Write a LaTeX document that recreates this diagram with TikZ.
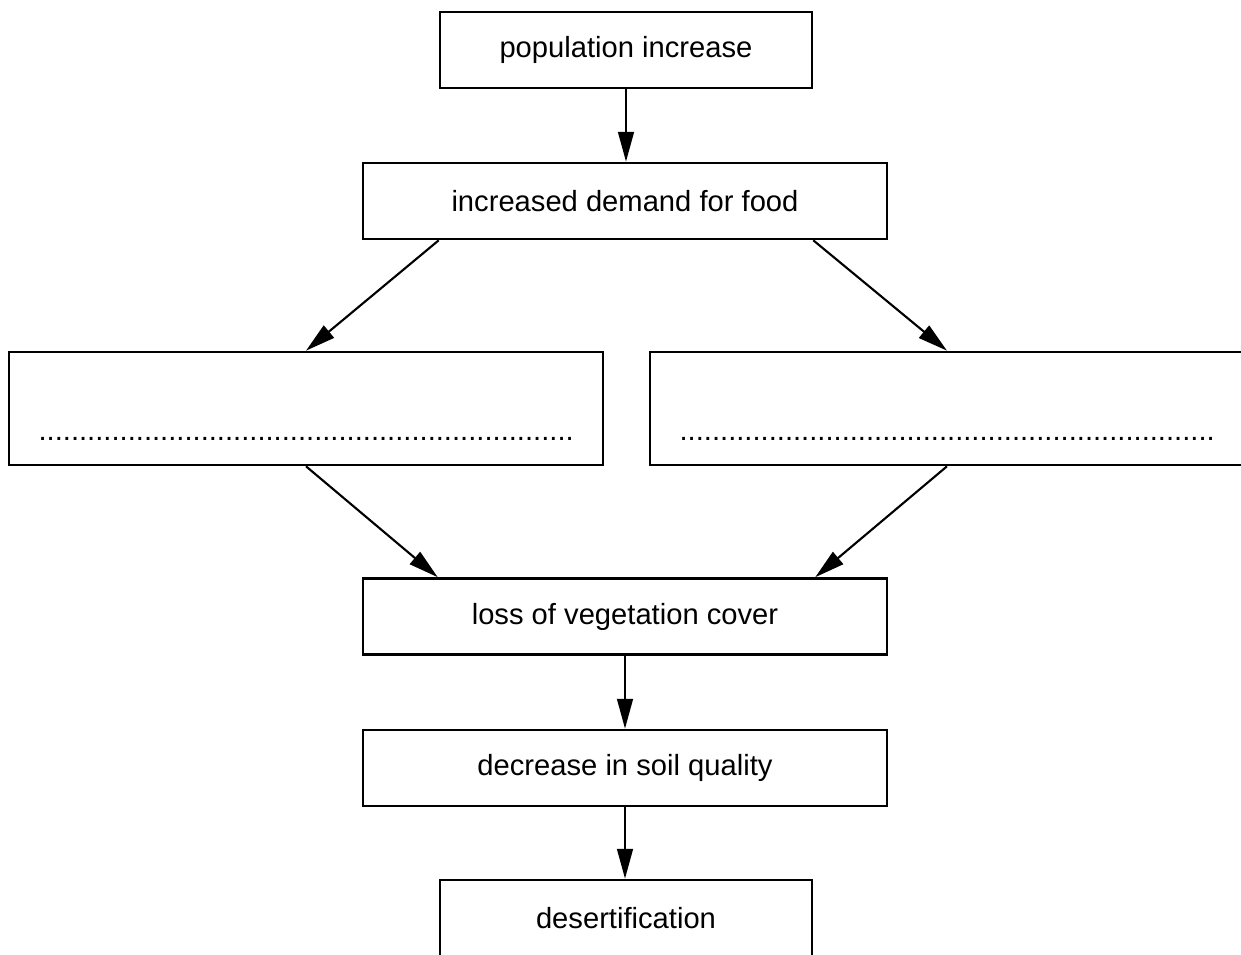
\documentclass[tikz,border=0pt]{standalone}
\usepackage{fontspec}
\setmainfont{Liberation Sans}
\usetikzlibrary{arrows.meta,positioning,calc}
\tikzset{
	flowtext/.style={font=\fontsize{16.6}{20}\selectfont},
	flowbox/.style={draw, line width=1.5pt, minimum width=#1, minimum height=1.52cm, inner sep=0pt, flowtext},
	flowbox/.default=10.48cm,
	answerbox/.style={flowbox=11.88cm, minimum height=2.26cm},
	flowarrow/.style={line width=1.2pt, -{Triangle[length=17pt,width=9pt]}},
}
\newcommand{\answerdots}{\foreach \k in {1,...,66}{.}}
\begin{document}
\begin{tikzpicture}[x=0.02cm,y=-0.02cm]
	\clip (0,0) rectangle (1241,955);
	\node [flowbox=7.44cm] (pop) at (626,50) {population increase};
	\node [flowbox] (demand) at (625,201) {increased demand for food};
	\node [answerbox] (ansA) at (306,408.5) {};
	\node [answerbox] (ansB) at (947,408.5) {};
	\node [flowtext, anchor=base, inner sep=0pt] (dotsA) at (306,441) {\answerdots};
	\node [flowtext, anchor=base, inner sep=0pt] (dotsB) at (947,441) {\answerdots};
	\node [flowbox] (loss) at (625,616.5) {loss of vegetation cover};
	\node [flowbox] (soil) at (625,768) {decrease in soil quality};
	\node [flowbox=7.44cm] (desert) at (626,918) {desertification};
	% arrows
	\draw [flowarrow] (pop.south) -- (pop.south |- demand.north);
	\draw [flowarrow] ([xshift=1.54cm]demand.south west) -- (ansA.north);
	\draw [flowarrow] ([xshift=-1.5cm]demand.south east) -- (ansB.north);
	\draw [flowarrow] (ansA.south) -- ([xshift=1.52cm]loss.north west);
	\draw [flowarrow] (ansB.south) -- ([xshift=-1.46cm]loss.north east);
	\draw [flowarrow] (loss.south) -- (loss.south |- soil.north);
	\draw [flowarrow] (soil.south) -- (soil.south |- desert.north);
\end{tikzpicture}
\end{document}
